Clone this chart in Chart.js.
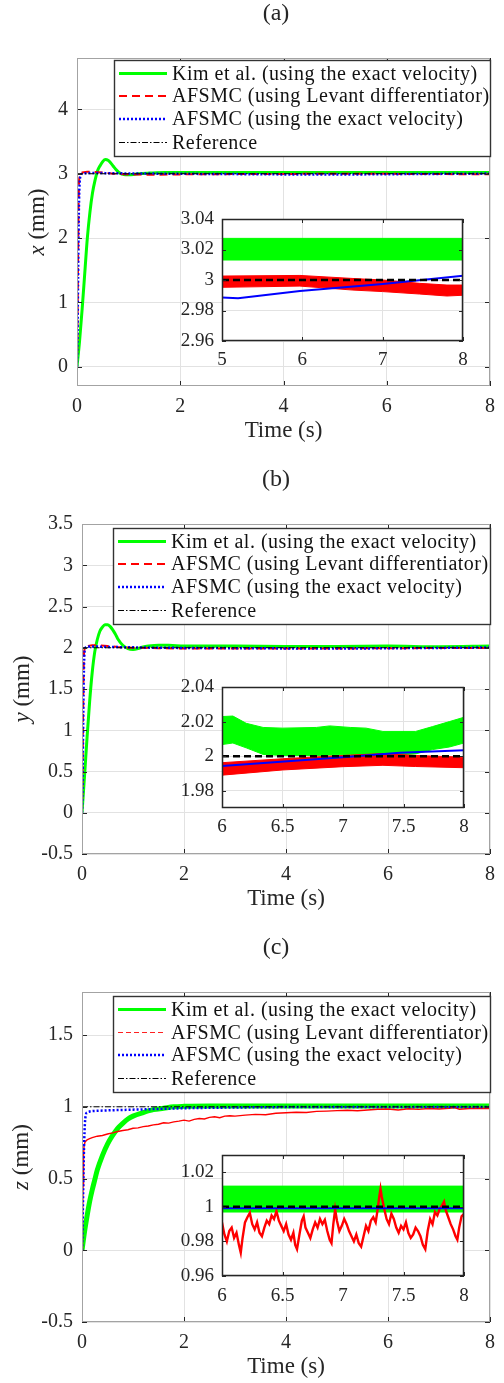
<!DOCTYPE html>
<html>
<head>
<meta charset="utf-8">
<title>Position tracking</title>
<script src="https://cdn.jsdelivr.net/npm/chart.js@4.4.1/dist/chart.umd.min.js"></script>
<style>
  html, body { margin: 0; padding: 0; background: #fff; }
  #fig { position: relative; width: 504px; height: 1383px; }
  #fig canvas { position: absolute; left: 0; }
</style>
</head>
<body>
<div id="fig">
  <canvas id="mainA" width="504" height="460" style="top:0px"></canvas>
  <canvas id="insetA" width="504" height="460" style="top:0px"></canvas>
  <canvas id="mainB" width="504" height="460" style="top:460px"></canvas>
  <canvas id="insetB" width="504" height="460" style="top:460px"></canvas>
  <canvas id="mainC" width="504" height="463" style="top:920px"></canvas>
  <canvas id="insetC" width="504" height="463" style="top:920px"></canvas>
</div>
<script>
/* ---------- data ---------- */
const seriesLabels = [
  "Kim et al. (using the exact velocity)",
  "AFSMC (using Levant differentiator)",
  "AFSMC (using the exact velocity)",
  "Reference"
];

const ticksXMain = [0, 2, 4, 6, 8];
const ticksYA = [0, 1, 2, 3, 4];
const ticksYB = [-0.5, 0, 0.5, 1, 1.5, 2, 2.5, 3, 3.5];
const ticksYC = [-0.5, 0, 0.5, 1, 1.5];
const ticksXInsetA = [5, 6, 7, 8];
const ticksYInsetA = [2.96, 2.98, 3, 3.02, 3.04];
const ticksXInsetBC = [6, 6.5, 7, 7.5, 8];
const ticksYInsetB = [1.98, 2, 2.02, 2.04];
const ticksYInsetC = [0.96, 0.98, 1, 1.02];

// (a) x position
const tKimA = [0, 0.05, 0.1, 0.15, 0.2, 0.25, 0.3, 0.35, 0.4, 0.45, 0.5, 0.55, 0.6, 0.65, 0.7, 0.75, 0.8, 0.85, 0.9, 1.0, 1.1, 1.2, 1.4, 1.7, 2, 3, 4, 5, 6, 7, 8];
const kimA = [0, 0.4, 0.9, 1.45, 2.0, 2.4, 2.7, 2.9, 3.05, 3.13, 3.19, 3.22, 3.21, 3.17, 3.12, 3.07, 3.03, 3.0, 2.99, 2.985, 2.99, 3.0, 3.01, 3.02, 3.02, 3.02, 3.02, 3.02, 3.02, 3.02, 3.02];
const tRedA = [0, 0.01, 0.02, 0.03, 0.04, 0.06, 0.1, 0.2, 0.3, 0.5, 0.7, 1.0, 1.5, 2, 3, 4, 5, 6, 7, 8];
const redA = [0, 0.6, 1.6, 2.5, 2.9, 3.0, 3.02, 3.03, 3.03, 3.02, 3.0, 2.99, 2.985, 2.99, 2.995, 2.998, 2.999, 2.999, 2.995, 2.991];
const tBlueA = [0, 0.01, 0.02, 0.03, 0.04, 0.05, 0.07, 0.1, 0.2, 0.5, 1, 2, 3, 4, 5, 6, 7, 8];
const blueA = [0, 0.5, 1.3, 2.1, 2.6, 2.85, 2.97, 3.0, 3.01, 3.01, 3.005, 3.0, 2.995, 2.99, 2.988, 2.993, 2.998, 3.003];
const tRefMain = [0, 8];
const refA = [3, 3];
// (a) inset
const tKimBandA = [5, 8];
const kimHiA = [3.0273, 3.0273];
const kimLoA = [3.0131, 3.0131];
const tRedBandA = [5, 5.97, 6.63, 7.0, 7.46, 7.8, 8];
const redHiA = [3.0026, 3.003, 3.001, 3.0, 2.9978, 2.9967, 2.9967];
const redLoA = [2.9952, 2.996, 2.9934, 2.9924, 2.9908, 2.9895, 2.99];
const tBlueInA = [5, 5.2, 5.97, 7.0, 8];
const blueInA = [2.9886, 2.988, 2.9928, 2.9974, 3.0028];
const tRefInA = [5, 8];

// (b) y position
const tKimB = [0, 0.05, 0.1, 0.15, 0.2, 0.25, 0.3, 0.35, 0.4, 0.45, 0.5, 0.55, 0.6, 0.65, 0.7, 0.8, 0.9, 1.0, 1.1, 1.2, 1.3, 1.5, 1.7, 2, 3, 4, 5, 6, 7, 8];
const kimB = [0, 0.45, 0.92, 1.35, 1.7, 1.95, 2.1, 2.2, 2.25, 2.28, 2.28, 2.26, 2.22, 2.17, 2.11, 2.03, 1.99, 1.98, 1.99, 2.01, 2.02, 2.03, 2.03, 2.02, 2.02, 2.015, 2.015, 2.02, 2.012, 2.02];
const tRedB = [0, 0.01, 0.02, 0.03, 0.04, 0.06, 0.1, 0.2, 0.3, 0.5, 0.7, 1.0, 1.5, 2, 3, 4, 5, 6, 7, 8];
const redB = [0, 0.4, 1.1, 1.7, 1.95, 2.01, 2.02, 2.03, 2.03, 2.02, 2.01, 2.0, 1.995, 1.99, 1.99, 1.99, 1.992, 1.993, 1.997, 1.996];
const tBlueB = [0, 0.01, 0.02, 0.03, 0.04, 0.05, 0.07, 0.1, 0.2, 0.5, 1, 1.5, 2, 3, 4, 5, 6, 7, 8];
const blueB = [0, 0.3, 0.9, 1.45, 1.8, 1.95, 2.0, 2.01, 2.015, 2.01, 2.005, 2.0, 1.998, 1.995, 1.992, 1.99, 1.994, 1.998, 2.003];
const refB = [2, 2];
// (b) inset
const tKimBandB = [6, 6.09, 6.2, 6.34, 6.5, 6.78, 6.89, 7.06, 7.19, 7.33, 7.6, 7.74, 7.88, 8.0];
const kimHiB = [2.0229, 2.0232, 2.019, 2.0166, 2.0162, 2.0166, 2.0175, 2.0166, 2.0162, 2.0143, 2.0143, 2.0171, 2.02, 2.0225];
const kimLoB = [2.0067, 2.0076, 2.0048, 2.001, 2.0004, 2.0004, 2.0006, 2.001, 2.0006, 2.0004, 2.0013, 2.0038, 2.0053, 2.0076];
const tRedBandB = [6, 6.5, 7.0, 7.33, 7.6, 8];
const redHiB = [1.9962, 1.9985, 2.0004, 2.0015, 2.0004, 1.9994];
const redLoB = [1.989, 1.992, 1.9939, 1.9947, 1.994, 1.9933];
const tBlueInB = [6, 7.0, 7.47, 8];
const blueInB = [1.9943, 1.9994, 2.0019, 2.0034];
const tRefInBC = [6, 8];

// (c) z position
const tKimC = [0, 0.05, 0.1, 0.15, 0.2, 0.25, 0.3, 0.4, 0.5, 0.6, 0.7, 0.8, 0.9, 1.0, 1.2, 1.4, 1.6, 1.8, 2.0, 2.5, 3, 4, 5, 6, 7, 8];
const kimC = [0, 0.13, 0.24, 0.34, 0.42, 0.49, 0.56, 0.66, 0.74, 0.8, 0.85, 0.885, 0.915, 0.935, 0.96, 0.98, 0.99, 1.0, 1.003, 1.005, 1.005, 1.005, 1.005, 1.005, 1.005, 1.005];
const tRedC = [0, 0.01, 0.02, 0.03, 0.04, 0.06, 0.1, 0.15, 0.2, 0.3,
  0.4, 0.5, 0.6, 0.7, 0.8, 0.9, 1.0, 1.1, 1.2, 1.3,
  1.4, 1.5, 1.6, 1.7, 1.8, 1.9, 2.0, 2.1, 2.2, 2.3,
  2.4, 2.5, 2.6, 2.7, 2.8, 2.9, 3.0, 3.2, 3.4, 3.6,
  3.8, 4.0, 4.2, 4.4, 4.6, 4.8, 5.0, 5.2, 5.4, 5.6,
  5.8, 6.0, 6.2, 6.4, 6.6, 6.8, 7.0, 7.2, 7.3, 7.4,
  7.6, 7.8, 8.0];
const redC = [0, 0.2, 0.45, 0.65, 0.73, 0.755, 0.77, 0.778, 0.785, 0.795,
  0.80, 0.81, 0.818, 0.828, 0.835, 0.84, 0.85, 0.853, 0.862, 0.866,
  0.874, 0.878, 0.889, 0.886, 0.895, 0.9, 0.907, 0.9, 0.912, 0.918,
  0.915, 0.926, 0.93, 0.924, 0.935, 0.938, 0.935, 0.942, 0.947, 0.945,
  0.955, 0.958, 0.962, 0.96, 0.968, 0.97, 0.973, 0.976, 0.972, 0.978,
  0.983, 0.985, 0.978, 0.986, 0.982, 0.988, 0.985, 0.99, 0.995, 0.983,
  0.988, 0.99, 0.988];
const tBlueC = [0, 0.01, 0.02, 0.03, 0.04, 0.05, 0.06, 0.08, 0.1, 0.15, 0.2, 0.3, 0.5, 1, 1.5, 2, 3, 4, 5, 6, 7, 8];
const blueC = [0, 0.15, 0.35, 0.55, 0.72, 0.83, 0.9, 0.95, 0.96, 0.967, 0.97, 0.972, 0.975, 0.98, 0.985, 0.99, 0.995, 0.998, 0.999, 0.999, 0.999, 0.999];
const refC = [1, 1];
// (c) inset
const tKimBandC = [6, 8];
const kimHiC = [1.012, 1.012];
const kimLoC = [0.997, 0.997];
const tRedInC = [6.00, 6.02, 6.04, 6.06, 6.08, 6.10, 6.12, 6.14, 6.155, 6.17,
  6.19, 6.21, 6.23, 6.25, 6.27, 6.29, 6.31, 6.33, 6.35, 6.37,
  6.39, 6.41, 6.43, 6.45, 6.47, 6.49, 6.51, 6.53, 6.55, 6.57,
  6.59, 6.605, 6.62, 6.64, 6.66, 6.675, 6.69, 6.71, 6.73, 6.75,
  6.77, 6.79, 6.81, 6.83, 6.85, 6.87, 6.89, 6.905, 6.92, 6.935,
  6.95, 6.97, 6.99, 7.01, 7.03, 7.05, 7.07, 7.09, 7.11, 7.13,
  7.15, 7.17, 7.19, 7.21, 7.23, 7.25, 7.27, 7.285, 7.30, 7.31,
  7.32, 7.34, 7.36, 7.38, 7.40, 7.42, 7.44, 7.46, 7.48, 7.50,
  7.52, 7.54, 7.56, 7.58, 7.60, 7.62, 7.64, 7.66, 7.68, 7.70,
  7.72, 7.74, 7.76, 7.78, 7.80, 7.82, 7.835, 7.85, 7.87, 7.89,
  7.91, 7.93, 7.945, 7.96, 7.98, 8.00];
const redInC = [0.991, 0.984, 0.980, 0.986, 0.988, 0.982, 0.985, 0.978, 0.9735, 0.982,
  0.991, 0.994, 0.9965, 0.990, 0.987, 0.991, 0.985, 0.983, 0.988, 0.992,
  0.990, 0.995, 0.993, 0.9975, 0.992, 0.989, 0.986, 0.990, 0.984, 0.981,
  0.985, 0.978, 0.9755, 0.984, 0.992, 0.9945, 0.988, 0.985, 0.982, 0.987,
  0.991, 0.988, 0.993, 0.990, 0.9925, 0.986, 0.981, 0.979, 0.990, 0.9985,
  0.992, 0.986, 0.989, 0.993, 0.990, 0.986, 0.983, 0.980, 0.984, 0.979,
  0.977, 0.983, 0.989, 0.986, 0.992, 0.994, 0.991, 0.998, 1.006, 1.0105,
  1.006, 0.999, 0.993, 0.990, 0.996, 0.993, 0.988, 0.985, 0.989, 0.987,
  0.991, 0.985, 0.982, 0.984, 0.988, 0.986, 0.983, 0.978, 0.9755, 0.986,
  0.993, 0.990, 0.997, 0.995, 0.999, 1.001, 1.003, 0.998, 0.994, 0.990,
  0.987, 0.983, 0.981, 0.988, 0.9945, 0.996];
const tBlueInC = [6, 8];
const blueInC = [0.9992, 0.9992];

/* ---------- styling ---------- */
const SERIF = '"Liberation Serif", "Times New Roman", serif';
const GREEN = "#00ff00", RED = "#ff0000", BLUE = "#0000ff", BLACK = "#000000";
const TEXT = "#262626";

const xy = (t, v) => t.map((ti, i) => ({ x: ti, y: v[i] }));
const fmt = (v) => String(+Number(v).toFixed(3));

// box around the axes + inward tick marks on all four sides
const frame = {
  id: "frame",
  beforeDraw(chart, args, o) {
    if (!o.fill) return;
    const a = chart.chartArea;
    chart.ctx.save();
    chart.ctx.fillStyle = o.fill;
    chart.ctx.fillRect(a.left, a.top, a.right - a.left, a.bottom - a.top);
    chart.ctx.restore();
  },
  afterDatasetsDraw(chart, args, o) {
    const { ctx, chartArea: a, scales } = chart;
    ctx.save();
    ctx.strokeStyle = o.tickColor;
    ctx.lineWidth = 1;
    ctx.beginPath();
    scales.x.ticks.forEach((t) => {
      const px = Math.round(scales.x.getPixelForValue(t.value)) + 0.5;
      ctx.moveTo(px, a.bottom); ctx.lineTo(px, a.bottom - o.tickLen);
      ctx.moveTo(px, a.top); ctx.lineTo(px, a.top + o.tickLen);
    });
    scales.y.ticks.forEach((t) => {
      const py = Math.round(scales.y.getPixelForValue(t.value)) + 0.5;
      ctx.moveTo(a.left, py); ctx.lineTo(a.left + o.tickLen, py);
      ctx.moveTo(a.right, py); ctx.lineTo(a.right - o.tickLen, py);
    });
    ctx.stroke();
    ctx.strokeStyle = o.color;
    ctx.lineWidth = o.width;
    ctx.strokeRect(a.left + 0.5, a.top + 0.5, a.right - a.left - 1, a.bottom - a.top - 1);
    ctx.restore();
  }
};

// legend box drawn inside the plot area
const boxLegend = {
  id: "boxLegend",
  afterDraw(chart, args, o) {
    const ctx = chart.ctx;
    ctx.save();
    ctx.fillStyle = "#fff";
    ctx.fillRect(o.left, o.top, o.right - o.left, o.height);
    ctx.strokeStyle = "#333";
    ctx.lineWidth = 1.4;
    ctx.strokeRect(o.left + 0.5, o.top + 0.5, o.right - o.left, o.height);
    ctx.font = "20px " + SERIF;
    ctx.textBaseline = "middle";
    ctx.textAlign = "left";
    chart.data.datasets.forEach((ds, i) => {
      const lw = ds.legendWidth || ds.borderWidth;
      const yy = Math.round(o.top + 12.5 + 23 * i) + (lw % 2 === 1 ? 0.5 : 0);
      ctx.strokeStyle = ds.legendColor || ds.borderColor;
      ctx.lineWidth = lw;
      ctx.setLineDash(ds.legendDash || ds.borderDash || []);
      ctx.beginPath();
      ctx.moveTo(o.left + 5, yy);
      ctx.lineTo(o.left + 53, yy);
      ctx.stroke();
      ctx.setLineDash([]);
      ctx.fillStyle = "#111";
      ctx.letterSpacing = "0.5px";
      ctx.fillText(ds.label, o.left + 58, yy + 1);
      ctx.letterSpacing = "0px";
    });
    ctx.restore();
  }
};

// panel title, x label and y label (italic variable + unit)
const axisText = {
  id: "axisText",
  afterDraw(chart, args, o) {
    const { ctx, chartArea: a } = chart;
    ctx.save();
    ctx.fillStyle = TEXT;
    ctx.textAlign = "center";
    ctx.textBaseline = "middle";
    ctx.font = "24px " + SERIF;
    ctx.fillText(o.title, o.titleX, a.top - 44);
    ctx.font = "23px " + SERIF;
    ctx.fillText("Time (s)", (a.left + a.right) / 2, a.bottom + 45);
    ctx.translate(o.yLabelX, (a.top + a.bottom) / 2);
    ctx.rotate(-Math.PI / 2);
    const unit = " (mm)";
    ctx.font = "italic 23px " + SERIF;
    const w1 = ctx.measureText(o.yVar).width;
    ctx.font = "23px " + SERIF;
    const w2 = ctx.measureText(unit).width;
    ctx.textAlign = "left";
    ctx.font = "italic 23px " + SERIF;
    ctx.fillText(o.yVar, -(w1 + w2) / 2, 0);
    ctx.font = "23px " + SERIF;
    ctx.fillText(unit, -(w1 + w2) / 2 + w1, 0);
    ctx.restore();
  }
};

function buildChart(id, area, ax, datasets, extra) {
  return new Chart(document.getElementById(id), {
    type: "line",
    data: { datasets },
    plugins: [frame, boxLegend, axisText],
    options: {
      responsive: false,
      animation: false,
      devicePixelRatio: 1,
      events: [],
      layout: { padding: { left: 0, top: area.top, right: 504 - area.right, bottom: 0 } },
      elements: { point: { radius: 0 }, line: { tension: 0, borderCapStyle: "butt" } },
      plugins: {
        legend: { display: false },
        tooltip: { enabled: false },
        title: { display: false },
        frame: extra.frame,
        boxLegend: extra.legend || false,
        axisText: extra.text || false
      },
      scales: {
        x: {
          type: "linear",
          min: ax.xMin, max: ax.xMax,
          afterBuildTicks: (s) => { s.ticks = ax.xTicks.map((v) => ({ value: v })); },
          afterFit: (s) => { s.height = area.h - area.bottom; },
          grid: { color: "#e2e2e2", drawTicks: false },
          border: { display: false },
          ticks: { autoSkip: false, maxRotation: 0, padding: ax.xPad, color: TEXT,
                   font: { family: SERIF, size: ax.font }, callback: fmt }
        },
        y: {
          type: "linear",
          min: ax.yMin, max: ax.yMax,
          afterBuildTicks: (s) => { s.ticks = ax.yTicks.map((v) => ({ value: v })); },
          afterFit: (s) => { s.width = area.left; },
          grid: { color: "#e2e2e2", drawTicks: false },
          border: { display: false },
          ticks: { autoSkip: false, padding: ax.yPad, color: TEXT,
                   font: { family: SERIF, size: ax.font }, callback: fmt }
        }
      }
    }
  });
}

function mainSets(kim, red, blue, ref, opts) {
  return [
    { label: seriesLabels[0], data: kim, borderColor: GREEN, borderWidth: opts.kimWidth || 3,
      legendWidth: 3, cubicInterpolationMode: "monotone", order: 4 },
    { label: seriesLabels[1], data: red, borderColor: RED, borderWidth: opts.redWidth || 2,
      borderDash: opts.redDash || [8, 5], legendDash: opts.redLegendDash, legendWidth: opts.redLegendWidth,
      legendColor: opts.redLegendColor, order: 3 },
    { label: seriesLabels[2], data: blue, borderColor: BLUE, borderWidth: 2.5, borderDash: [2, 2],
      cubicInterpolationMode: "monotone", order: 2 },
    { label: seriesLabels[3], data: ref, borderColor: BLACK, borderWidth: 1, borderDash: [6, 2, 1.5, 2], order: 1 }
  ];
}

function insetSets(kimHi, kimLo, red, redLo, blue, ref) {
  const sets = [
    { data: kimHi, borderColor: GREEN, borderWidth: 1, fill: false, order: 5 },
    { data: kimLo, borderColor: GREEN, borderWidth: 1, backgroundColor: GREEN, fill: "-1", order: 5 }
  ];
  if (redLo) {
    sets.push({ data: red, borderColor: RED, borderWidth: 1, fill: false, order: 3 });
    sets.push({ data: redLo, borderColor: RED, borderWidth: 1, backgroundColor: RED, fill: "-1", order: 3 });
  } else {
    sets.push({ data: red, borderColor: RED, borderWidth: 2.4, fill: false, order: 3 });
  }
  sets.push({ data: blue, borderColor: BLUE, borderWidth: 2, fill: false, order: 2 });
  sets.push({ data: ref, borderColor: BLACK, borderWidth: 2.5, borderDash: [7, 4], fill: false, order: 1 });
  return sets;
}

const mainFrame = { color: "#a3a3a3", width: 1, tickLen: 5, tickColor: "#262626" };
const insetFrame = { fill: "#ffffff", color: "#262626", width: 1.5, tickLen: 4, tickColor: "#262626" };

/* ---------- (a) ---------- */
buildChart("mainA", { left: 77, right: 493, top: 58, bottom: 386, h: 460 },
  { xMin: 0, xMax: 8, xTicks: ticksXMain, yMin: -0.3, yMax: 4.8, yTicks: ticksYA, font: 20, xPad: 9, yPad: 9 },
  mainSets(xy(tKimA, kimA), xy(tRedA, redA), xy(tBlueA, blueA), xy(tRefMain, refA), {}),
  { frame: mainFrame, legend: { left: 114, right: 490, top: 60, height: 96 },
    text: { title: "(a)", titleX: 276, yVar: "x", yLabelX: 38 } });
buildChart("insetA", { left: 222, right: 463, top: 219, bottom: 341, h: 460 },
  { xMin: 5, xMax: 8, xTicks: ticksXInsetA, yMin: 2.96, yMax: 3.04, yTicks: ticksYInsetA, font: 19, xPad: 8, yPad: 8 },
  insetSets(xy(tKimBandA, kimHiA), xy(tKimBandA, kimLoA), xy(tRedBandA, redHiA), xy(tRedBandA, redLoA),
            xy(tBlueInA, blueInA), xy(tRefInA, refA)),
  { frame: insetFrame });

/* ---------- (b) ---------- */
buildChart("mainB", { left: 82, right: 493, top: 64, bottom: 394, h: 460 },
  { xMin: 0, xMax: 8, xTicks: ticksXMain, yMin: -0.5, yMax: 3.5, yTicks: ticksYB, font: 20, xPad: 9, yPad: 9 },
  mainSets(xy(tKimB, kimB), xy(tRedB, redB), xy(tBlueB, blueB), xy(tRefMain, refB), {}),
  { frame: mainFrame, legend: { left: 113, right: 490, top: 68, height: 96 },
    text: { title: "(b)", titleX: 276, yVar: "y", yLabelX: 23 } });
buildChart("insetB", { left: 222, right: 464, top: 227, bottom: 348, h: 460 },
  { xMin: 6, xMax: 8, xTicks: ticksXInsetBC, yMin: 1.97, yMax: 2.04, yTicks: ticksYInsetB, font: 19, xPad: 8, yPad: 8 },
  insetSets(xy(tKimBandB, kimHiB), xy(tKimBandB, kimLoB), xy(tRedBandB, redHiB), xy(tRedBandB, redLoB),
            xy(tBlueInB, blueInB), xy(tRefInBC, refB)),
  { frame: insetFrame });

/* ---------- (c) ---------- */
buildChart("mainC", { left: 82, right: 493, top: 72, bottom: 402, h: 463 },
  { xMin: 0, xMax: 8, xTicks: ticksXMain, yMin: -0.5, yMax: 1.8, yTicks: ticksYC, font: 20, xPad: 9, yPad: 9 },
  mainSets(xy(tKimC, kimC), xy(tRedC, redC), xy(tBlueC, blueC), xy(tRefMain, refC),
           { kimWidth: 5, redWidth: 1.4, redDash: [], redLegendDash: [5, 3], redLegendWidth: 1, redLegendColor: "#ff2020" }),
  { frame: mainFrame, legend: { left: 113, right: 490, top: 76, height: 96 },
    text: { title: "(c)", titleX: 276, yVar: "z", yLabelX: 22 } });
buildChart("insetC", { left: 222, right: 464, top: 235, bottom: 356, h: 463 },
  { xMin: 6, xMax: 8, xTicks: ticksXInsetBC, yMin: 0.96, yMax: 1.03, yTicks: ticksYInsetC, font: 19, xPad: 9, yPad: 8 },
  insetSets(xy(tKimBandC, kimHiC), xy(tKimBandC, kimLoC), xy(tRedInC, redInC), null,
            xy(tBlueInC, blueInC), xy(tRefInBC, refC)),
  { frame: insetFrame });
</script>
</body>
</html>
